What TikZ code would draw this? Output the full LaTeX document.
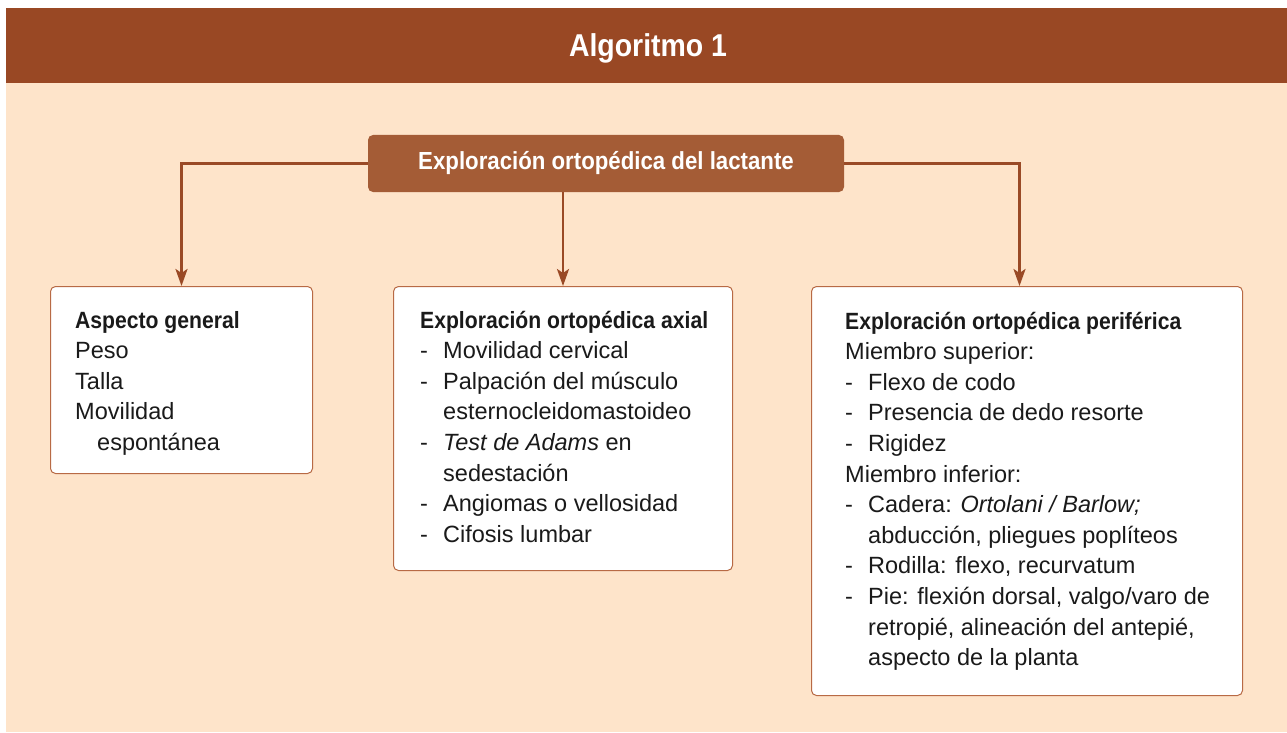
\documentclass[tikz,border=0pt]{standalone}
\usepackage{fontspec}
\setmainfont{Liberation Sans}
\newfontfamily\hdfont{Liberation Sans}[FakeStretch=0.9]
\usetikzlibrary{arrows.meta}
\definecolor{hdr}{HTML}{994824}
\definecolor{peach}{HTML}{FEE4CA}
\definecolor{topfill}{HTML}{A45C36}
\definecolor{conn}{HTML}{9A4A26}
\definecolor{bord}{HTML}{B86A45}
\definecolor{txt}{HTML}{1A1A1A}
\newcommand\dl[1]{\makebox[23pt][l]{-}#1}
\newcommand\cl[1]{\hspace*{23pt}#1}
\newcommand\ttl[1]{{\hdfont\bfseries #1}}
\begin{document}
\begin{tikzpicture}[x=1pt,y=-1pt,
  box/.style={draw=bord,line width=1pt,fill=white,rounded corners=5pt,anchor=north west,inner sep=0pt},
  body/.style={anchor=base west,inner sep=0pt,text=txt,font=\fontsize{23.5}{30.6}\selectfont},
  arr/.style={draw=conn,line width=2.6pt,-{Stealth[length=17pt,width=12pt,inset=4pt]}},
  ]
\useasboundingbox[fill=white] (0,0) rectangle (1287,733);
\fill[peach] (6,83) rectangle (1287,732);
\fill[hdr] (6,8) rectangle (1287,83);
\node[anchor=base,inner sep=0pt,text=white,font=\hdfont\bfseries\fontsize{31.6}{36}\selectfont] (title) at (648,57) {Algoritmo 1};

\node[fill=topfill,rounded corners=5pt,minimum width=476pt,minimum height=57pt,inner sep=0pt,text=white,font=\hdfont\bfseries\fontsize{24.7}{28}\selectfont] (top) at (606,163.5) {Exploración ortopédica del lactante};

\node[box,minimum width=262pt,minimum height=187pt] (gen) at (50,286) {};
\node[box,minimum width=339pt,minimum height=284pt] (axial) at (393,286) {};
\node[box,minimum width=431pt,minimum height=409pt] (peri) at (811,286) {};

\draw[arr] (top.west) -| (gen.north);
\draw[arr] (top.south -| axial.north) -- (axial.north);
\draw[arr] (top.east) -| ([xshift=-7.5pt]peri.north);

\node[body] (genT) at (75,328) {\begin{tabular}[t]{@{}l@{}}
\ttl{Aspecto general}\\
Peso\\
Talla\\
Movilidad\\
\hspace*{22pt}espontánea
\end{tabular}};

\node[body] (axialT) at (420,328) {\begin{tabular}[t]{@{}l@{}}
\ttl{Exploración ortopédica axial}\\
\dl{Movilidad cervical}\\
\dl{Palpación del músculo}\\
\cl{esternocleidomastoideo}\\
\dl{\textit{Test de Adams} en}\\
\cl{sedestación}\\
\dl{Angiomas o vellosidad}\\
\dl{Cifosis lumbar}
\end{tabular}};

\node[body] (periT) at (845,329) {\begin{tabular}[t]{@{}l@{}}
\ttl{Exploración ortopédica periférica}\\
Miembro superior:\\
\dl{Flexo de codo}\\
\dl{Presencia de dedo resorte}\\
\dl{Rigidez}\\
Miembro inferior:\\
\dl{Cadera: \textit{Ortolani / Barlow;}}\\
\cl{abducción, pliegues poplíteos}\\
\dl{Rodilla: flexo, recurvatum}\\
\dl{Pie: flexión dorsal, valgo/varo de}\\
\cl{retropié, alineación del antepié,}\\
\cl{aspecto de la planta}
\end{tabular}};
\end{tikzpicture}
\end{document}
